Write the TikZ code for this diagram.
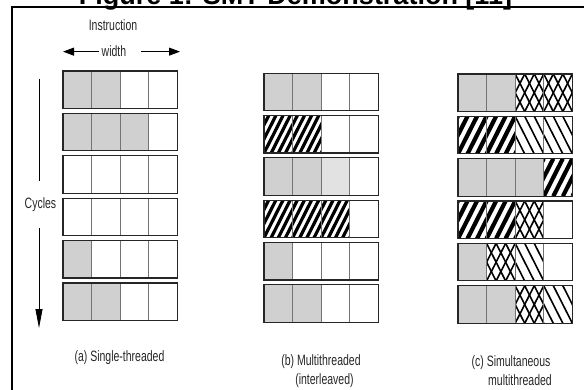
\documentclass[tikz,border=0pt]{standalone}
\usepackage{fontspec}
\setmainfont{Liberation Sans}[FakeStretch=0.7]
\newfontfamily\titlefont{Liberation Sans}
\usetikzlibrary{arrows.meta}
\definecolor{stipGray}{RGB}{208,208,208}
\definecolor{stipLight}{RGB}{226,226,226}

% one issue slot = one cell
\newcommand{\cwid}{28.6}
\newcommand{\chgt}{37.5}
\newcommand{\slantrun}{19}

\tikzset{
  rowbox/.style={draw=black!85, line width=1.2pt},
  divider/.style={draw=black!55, line width=0.8pt},
  thickstripe/.style={black, line width=3.2pt},
  widestripe/.style={black, line width=4.2pt},
  thinstripe/.style={black, line width=1.6pt},
  captext/.style={font=\fontsize{15}{17}\selectfont, text=black!85, inner sep=0pt},
  widtharrow/.style={-{Triangle[length=11pt,width=8pt]}, line width=0.9pt},
  cyclearrow/.style={-{Triangle[length=19pt,width=7pt]}, line width=0.8pt}
}

% cell fills: w empty, g gray, t light gray, h / k black stripes, b thin \, x cross
\newcommand{\cellw}[2]{}
\newcommand{\cellg}[2]{\fill[stipGray] (#1,#2) rectangle ++(\cwid,\chgt);}
\newcommand{\cellt}[2]{\fill[stipLight] (#1,#2) rectangle ++(\cwid,\chgt);}
\newcommand{\cellh}[2]{%
  \begin{scope}
    \clip (#1,#2) rectangle ++(\cwid,\chgt);
    \foreach \s in {-3,...,4}
      \draw[thickstripe] ({#1+\s*\cwid/4},{#2+\chgt}) -- ++(\slantrun,-\chgt);
  \end{scope}}
\newcommand{\cellk}[2]{%
  \begin{scope}
    \clip (#1,#2) rectangle ++(\cwid,\chgt);
    \foreach \s in {-2,...,3}
      \draw[widestripe] ({#1+\s*\cwid/3},{#2+\chgt}) -- ++(\slantrun,-\chgt);
  \end{scope}}
\newcommand{\cellb}[2]{%
  \begin{scope}
    \clip (#1,#2) rectangle ++(\cwid,\chgt);
    \foreach \s in {-2,...,3}
      \draw[thinstripe] ({#1+\s*\cwid/3},#2) -- ++(\slantrun,\chgt);
  \end{scope}}
\newcommand{\cellx}[2]{%
  \begin{scope}
    \clip (#1,#2) rectangle ++(\cwid,\chgt);
    \foreach \s in {-2,...,3}{
      \draw[thinstripe] ({#1+\s*\cwid/3},#2) -- ++(\slantrun,\chgt);
      \draw[thinstripe] ({#1+\s*\cwid/3},{#2+\chgt}) -- ++(\slantrun,-\chgt);
    }
  \end{scope}}

% one cycle: four slots
\newcommand{\cellrow}[3]{%
  \edef\rowlist{#3}%
  \foreach \kind [count=\k from 0] in \rowlist {%
    \pgfmathsetmacro{\xa}{#1+\k*\cwid}%
    \csname cell\kind\endcsname{\xa}{#2}%
  }%
  \foreach \k in {1,2,3}
    \draw[divider] ({#1+\k*\cwid},#2) -- ++(0,\chgt);
  \draw[rowbox] (#1,#2) rectangle ++({4*\cwid},\chgt);
}

\begin{document}
\begin{tikzpicture}[x=1pt, y=-1pt]
  \useasboundingbox (0,0) rectangle (584,390);
  \clip (0,0) rectangle (584,390);

  % title, cut by the page
  \node[font=\titlefont\bfseries\fontsize{27}{30}\selectfont, anchor=base, inner sep=0pt] (title)
    at (295.5,4.5) {Figure 1: SMT Demonstration [11]};
  \draw[line width=1.3pt] (584,7) -- (12,7) -- (12,390);

  % axes
  \node[captext, anchor=base] (instr) at (113,31) {Instruction};
  \node[captext, anchor=base] (wid) at (114,57) {width};
  \coordinate (wl) at (63,52);
  \coordinate (wr) at (180,52);
  \draw[widtharrow] ([xshift=-3pt]wid.west) -- (wid.west -| wl);
  \draw[widtharrow] ([xshift=15pt]wid.east) -- (wid.east -| wr);

  \node[captext, anchor=base] (cyc) at (40.5,209) {Cycles};
  \coordinate (ctop) at (39,79);
  \coordinate (cbot) at (39,328);
  \draw[line width=0.8pt] (ctop) -- ([yshift=17pt]cyc.north -| ctop);
  \draw[cyclearrow] ([yshift=-16pt]cyc.south -| cbot) -- (cbot);

  % (a) single-threaded
  \cellrow{63}{71}{g,g,w,w}
  \cellrow{63}{113.4}{g,g,g,w}
  \cellrow{63}{155.8}{w,w,w,w}
  \cellrow{63}{198.2}{w,w,w,w}
  \cellrow{63}{240.6}{g,w,w,w}
  \cellrow{63}{283}{g,g,w,w}

  % (b) interleaved
  \cellrow{264}{73.3}{g,g,w,w}
  \cellrow{264}{115.6}{h,h,w,w}
  \cellrow{264}{157.9}{g,g,t,w}
  \cellrow{264}{200.2}{h,h,h,w}
  \cellrow{264}{242.5}{g,w,w,w}
  \cellrow{264}{284.8}{g,g,w,w}

  % (c) simultaneous
  \cellrow{458}{74}{g,g,x,x}
  \cellrow{458}{116.35}{k,k,b,b}
  \cellrow{458}{158.7}{g,g,g,k}
  \cellrow{458}{201.05}{k,k,x,w}
  \cellrow{458}{243.4}{g,x,b,w}
  \cellrow{458}{285.75}{g,g,x,b}

  % captions
  \node[captext, anchor=base] (capa) at (119.5,361) {(a) Single-threaded};
  \node[captext, anchor=base] (capb) at (321,365) {(b) Multithreaded};
  \node[captext, anchor=base] (capbb) at (324.5,384) {(interleaved)};
  \node[captext, anchor=base] (capc) at (511,366) {(c) Simultaneous};
  \node[captext, anchor=base] (capcc) at (520,385) {multithreaded};
\end{tikzpicture}
\end{document}
